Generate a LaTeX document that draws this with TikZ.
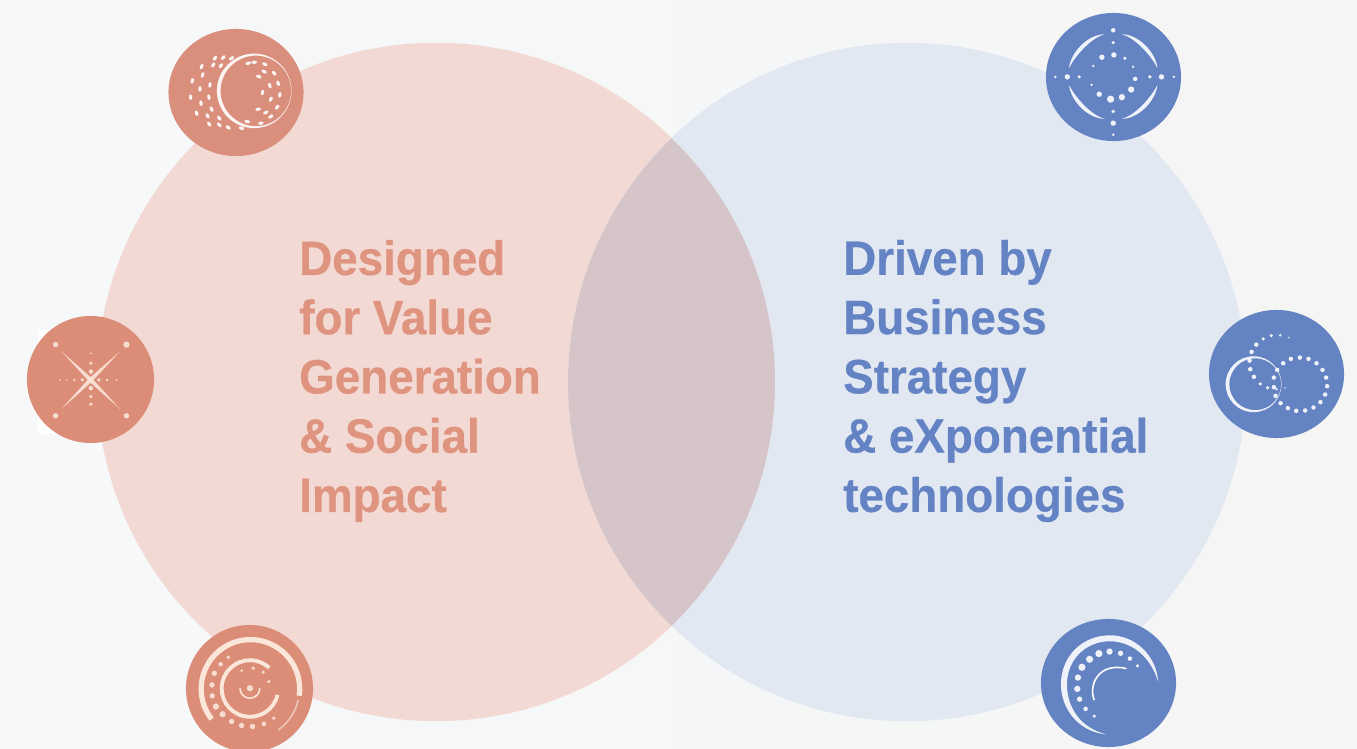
\documentclass[tikz,border=0pt]{standalone}
\usepackage{fontspec}
\usepackage{tikz}
\usetikzlibrary{shapes.geometric}
\setmainfont{Liberation Sans}[FakeStretch=0.95, BoldFeatures={FakeStretch=0.95, FakeBold=0.5}]

\definecolor{pagel}{HTML}{F6F8FA}
\definecolor{pager}{HTML}{F5F5F4}
\definecolor{redbig}{HTML}{F3D9D3}
\definecolor{bluebig}{HTML}{E1E8F1}
\definecolor{bothbig}{HTML}{D6C5C8}
\definecolor{redicon}{HTML}{D98F7C}
\definecolor{redicondeep}{HTML}{DC8D78}
\definecolor{blueicon}{HTML}{6483C2}
\definecolor{redtext}{HTML}{DF9480}
\definecolor{bluetext}{HTML}{6483C4}
\definecolor{creamdot}{HTML}{FBE6DA}

\newcommand{\sparks}[1]{\foreach \px/\py/\pr in {#1} \fill[spark] (\px,\py) circle[radius=\pr*1.35];}

\begin{document}
\begin{tikzpicture}[x=0.01cm, y=-0.01cm,
    big/.style={circle, inner sep=0pt, minimum size=6.78cm},
    ricon/.style={ellipse, inner sep=0pt, fill=redicon},
    bicon/.style={ellipse, inner sep=0pt, fill=blueicon},
    headline/.style={anchor=west, align=left, inner sep=0pt, font=\fontsize{13.7}{16.85}\selectfont\bfseries},
    spark/.style={fill=white, fill opacity=0.9},
    hair/.style={draw=white, line width=0.45pt},
    zoomed/.style 2 args={shift={(#1,#2)}, x=0.0033333cm, y=-0.0033333cm}]
    \useasboundingbox (0,0) rectangle (1357,749);
    % page
    \shade[left color=pagel, right color=pager] (0,0) rectangle (1357,749);
    \fill[white] (38,330) rectangle (142,434);
    % big circles
    \node[big, fill=redbig] (value) at (436,382) {};
    \node[big, fill=bluebig] (strategy) at (907,382) {};
    \begin{scope}
        \clip (436,382) circle[radius=339];
        \fill[bothbig] (907,382) circle[radius=339];
    \end{scope}
    % icons
    \node[ricon, minimum width=1.35cm, minimum height=1.27cm] (r1) at (236,92.5) {};
    \node[ricon, fill=redicondeep, minimum width=1.27cm, minimum height=1.27cm] (r2) at (90.5,379.5) {};
    \node[ricon, fill=redicondeep, minimum width=1.27cm, minimum height=1.27cm] (r3) at (249.5,688.5) {};
    \node[bicon, minimum width=1.35cm, minimum height=1.28cm] (b1) at (1113.5,77) {};
    \node[bicon, minimum width=1.35cm, minimum height=1.28cm] (b2) at (1276.5,374) {};
    \node[bicon, minimum width=1.35cm, minimum height=1.28cm] (b3) at (1108.5,683) {};
    % top left
    \begin{scope}[zoomed={160}{20}]
        \fill[spark, even odd rule] (283,213) circle[radius=112] (288,213) circle[radius=106];
        \foreach \px/\py in {265/130,283/127,315/133,343/160,355/190,360/225,352/262,333/290,303/310,262/305,
            313/155,297/170,330/197,308/218,333/238,295/268,318/278,190/113,215/115,160/135,183/137,150/195,147/232,
            155/268,178/295,205/323,245/325,165/115,125/140,128/165,97/183,120/207,92/232,123/250,110/280,143/288,148/313,178/315} {
            \pgfmathsetmacro{\pa}{90-atan2(\py-213,\px-283)}
            \fill[spark, shift={(\px,\py)}, rotate=\pa] (0,0) ellipse[x radius=8.5, y radius=5];
        }
    \end{scope}
    % left
    \begin{scope}[zoomed={20}{310}, spark/.append style={fill=creamdot}]
        \fill[spark] (125,125) -- (217,206) -- (300,297) -- (207,214) -- cycle;
        \fill[spark] (125,297) -- (207,206) -- (300,125) -- (217,214) -- cycle;
        \sparks{107/104/6,320/104/7,107/318/6,320/318/6,213/130/2,213/160/4,213/185/5,213/235/5,213/260/4,213/283/4,
            120/210/2,140/210/2,163/210/3,187/210/4,237/210/4,262/210/3,290/210/2}
    \end{scope}
    % bottom left
    \begin{scope}[zoomed={180}{620}, spark/.append style={fill=creamdot}]
        \draw[draw=creamdot, line width=1.5pt] (95,298) arc[start angle=142, end angle=368, radius=148];
        \draw[hair, opacity=0.5] (355,240) arc[start angle=12, end angle=55, radius=148];
        \draw[draw=creamdot, line width=1.1pt] (293,225) arc[start angle=13, end angle=313, radius=85];
        \draw[hair, draw=creamdot] (180,205) arc[start angle=180, end angle=0, radius=30];
        \sparks{210/205/7,145/112/4,122/133/5,103/160/6,96/195/6,97/228/6,108/260/7,128/283/7,155/305/6,185/317/6,218/320/6,252/312/5,
            282/295/4,185/152/3,220/145/4,250/157/4,267/185/4}
    \end{scope}
    % top right
    \begin{scope}[zoomed={1040}{5}]
        \foreach \sx/\sy in {1/1,-1/1,1/-1,-1/-1} {
            \begin{scope}[shift={(220,215)}, xscale=\sx, yscale=\sy]
                \fill[spark] (-133,-25) .. controls (-127,-75) and (-74,-128) .. (-25,-127) .. controls (-64,-119) and (-115,-62) .. (-133,-25) -- cycle;
            \end{scope}
        }
        \sparks{220/76/5,220/113/4,222/150/6,186/157/6,255/160/4,160/183/3,280/186/3,286/222/5,155/240/3,274/254/7,246/277/7,212/283/8,178/268/6,
            220/320/4,220/355/6,220/390/3,46/216/3,82/216/6,118/216/4,330/216/4,365/216/6,402/216/3}
    \end{scope}
    % right
    \begin{scope}[zoomed={1200}{305}]
        \fill[spark, even odd rule] (161,238) circle[radius=84] (166,238) circle[radius=78];
        \sparks{250/175/5,273/162/5,300/158/5,326/162/5,350/175/5,368/195/5,379/218/5,382/244/5,376/269/5,362/292/5,341/308/5,316/317/5,
            289/318/5,264/310/5,242/295/5,227/273/5,222/247/5,222/218/5,232/195/5,267/98/2,241/91/3,214/92/4,190/102/4,169/119/5,155/141/5,
            149/167/5,151/193/5,162/216/5,181/237/4,203/249/4,230/253/3,256/249/2}
    \end{scope}
    % bottom right
    \begin{scope}[zoomed={1035}{612}]
        \fill[spark] (215,368) .. controls (130,360) and (78,290) .. (78,218) .. controls (78,130) and (145,70) .. (225,70)
            .. controls (300,70) and (365,130) .. (370,210) .. controls (350,140) and (295,88) .. (225,88)
            .. controls (150,88) and (96,145) .. (96,218) .. controls (96,290) and (140,350) .. (215,368) -- cycle;
        \draw[hair] (178,265) .. controls (160,220) and (190,150) .. (275,170);
        \sparks{308/162/4,285/140/5,257/124/6,224/119/7,192/125/8,164/142/8,141/166/8,129/197/7,127/231/7,134/262/6,152/291/5,178/313/4}
    \end{scope}
    % texts
    \node[headline, text=redtext] (design) at (298.5,381) {Designed\\for Value\\Generation\\\& Social\\Impact};
    \node[headline, text=bluetext] (driven) at (842.5,381) {Driven by\\Business\\Strategy\\\& eXponential\\technologies};
\end{tikzpicture}
\end{document}
